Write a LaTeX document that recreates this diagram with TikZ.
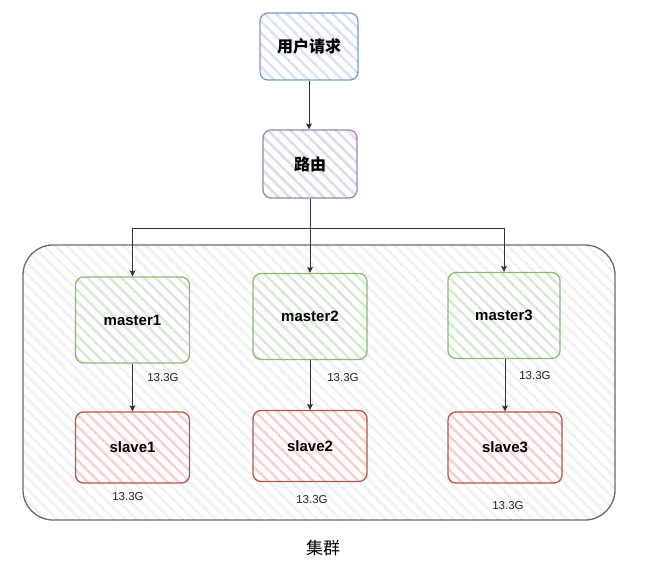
\documentclass[tikz,border=0pt]{standalone}
\usepackage{fontspec}
\setmainfont{Liberation Sans}
\newfontfamily\cjk{Noto Sans CJK SC}
\usetikzlibrary{patterns.meta,arrows.meta}
\definecolor{bluebd}{HTML}{7A98C9}
\definecolor{bluefl}{HTML}{D9E5F7}
\definecolor{purpbd}{HTML}{A083B0}
\definecolor{purpfl}{HTML}{E4D9EA}
\definecolor{greenbd}{HTML}{8DBA73}
\definecolor{greenfl}{HTML}{D9EAD7}
\definecolor{redbd}{HTML}{B85450}
\definecolor{redfl}{HTML}{F8D2D0}
\definecolor{graybd}{HTML}{6A6A6A}
\definecolor{grayfl}{HTML}{F1F1F1}
\definecolor{linec}{HTML}{333333}
\tikzset{
  hatched/.style={preaction={fill=white}, pattern={Lines[angle=-45,distance=8pt,line width=2.6pt]}, pattern color=#1},
  nodebox/.style={draw, rounded corners=8pt, line width=1.3pt, minimum width=114pt, text=black,
    font=\bfseries\fontsize{15}{17}\selectfont},
  userbox/.style={nodebox, draw=bluebd, hatched=bluefl},
  routebox/.style={nodebox, draw=purpbd, hatched=purpfl},
  masterbox/.style={nodebox, draw=greenbd, hatched=greenfl, minimum height=86pt},
  slavebox/.style={nodebox, draw=redbd, hatched=redfl, minimum height=71pt},
  clusterbox/.style={draw=graybd, line width=1.3pt, rounded corners=30pt, hatched=grayfl,
    minimum width=592pt, minimum height=275pt},
  arr/.style={draw=linec, line width=1pt, -{Stealth[length=6pt,width=6pt,inset=1.2pt]}},
  sizelbl/.style={font=\fontsize{11.5}{13}\selectfont, text=black!85}
}
\begin{document}
\begin{tikzpicture}[x=1pt,y=-1pt]
\useasboundingbox (0,0) rectangle (648,575);
\node[clusterbox] (cluster) at (319,382.5) {};
\node[font=\cjk\fontsize{17}{19}\selectfont] (clusterlbl) at (323,548) {集群};

\node[userbox, minimum width=98pt, minimum height=67pt, font=\cjk\bfseries\fontsize{16}{18}\selectfont] (user) at (309,46.5) {用户请求};
\node[routebox, minimum width=94pt, minimum height=68pt, font=\cjk\bfseries\fontsize{16}{18}\selectfont] (route) at (310,164) {路由};

\node[masterbox] (m1) at (132.5,320) {master1};
\node[masterbox] (m2) at (310,316.5) {master2};
\node[masterbox, minimum width=112pt] (m3) at (504,315.5) {master3};

\node[slavebox] (s1) at (132.5,447.5) {slave1};
\node[slavebox] (s2) at (310,446) {slave2};
\node[slavebox] (s3) at (505,447.5) {slave3};

\coordinate (junc) at (310,228);
\draw[arr] (user.south) -- (user.south |- route.north);
\draw[arr] (route.south) -- (m2.north);
\draw[arr] (junc) -| (m1.north);
\draw[arr] (junc) -| (m3.north);

\draw[arr] (m1.south) -- (s1.north);
\draw[arr] (m2.south) -- (s2.north);
\draw[arr] (m3.south -| s3.north) -- (s3.north);

\node[sizelbl] (l1) at (163,378) {13.3G};
\node[sizelbl] (l2) at (343,378) {13.3G};
\node[sizelbl] (l3) at (535,376) {13.3G};
\node[sizelbl] (l4) at (128,497) {13.3G};
\node[sizelbl] (l5) at (312,500) {13.3G};
\node[sizelbl] (l6) at (508,506) {13.3G};
\end{tikzpicture}
\end{document}
